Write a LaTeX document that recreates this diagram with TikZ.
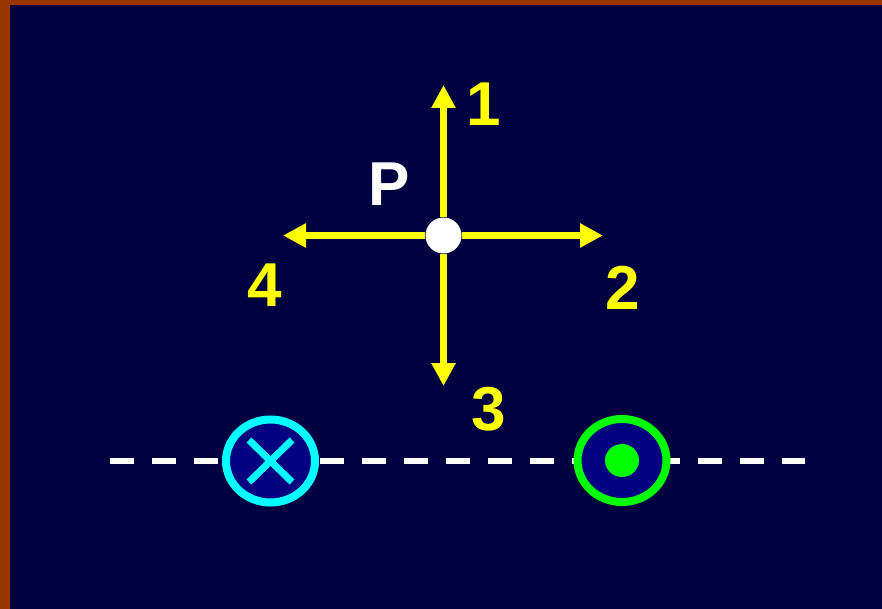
\documentclass[tikz,border=0pt]{standalone}
\usepackage{fontspec}
\setmainfont{Liberation Sans}
\usetikzlibrary{arrows.meta,shapes.geometric,calc}
\definecolor{framebrown}{HTML}{993300}
\definecolor{bgnavy}{HTML}{000040}
\definecolor{innernavy}{HTML}{000080}
\definecolor{ylw}{HTML}{FFFF00}
\definecolor{ccyan}{HTML}{00FFFF}
\definecolor{cgreen}{HTML}{00FF00}
\begin{document}
\begin{tikzpicture}[x=1pt,y=-1pt,
  arr/.style={draw=ylw, line width=7pt, -{Triangle[width=23pt,length=23pt]}, fill=ylw},
  lbl/.style={inner sep=0pt, font=\fontsize{62}{62}\selectfont\bfseries},
  ring/.style={ellipse, draw, line width=8pt, fill=innernavy, minimum width=89pt, minimum height=83pt, inner sep=0pt},
  axis/.style={draw=white, line width=6pt, dash pattern=on 24pt off 18pt}]
\fill[framebrown] (0,0) rectangle (882,609);
\fill[bgnavy] (10,5) rectangle (882,609);
\useasboundingbox (0,0) rectangle (882,609);
% dashed axis
\coordinate (L) at (110,461);
\coordinate (R) at (805,461);
\draw[axis] (L) -- (R);
% conductors
\node[ring, draw=ccyan] (into) at (270.5,461) {};
\draw[ccyan, line width=7pt] ($(into)+(-21.5,-21)$) -- ($(into)+(21.5,21)$);
\draw[ccyan, line width=7pt] ($(into)+(21.5,-21)$) -- ($(into)+(-21.5,21)$);
\node[ring, draw=cgreen] (outof) at (622,460.5) {};
\node[ellipse, fill=cgreen, minimum width=34pt, minimum height=33pt, inner sep=0pt] (dot) at (outof) {};
% point P
\node[circle, fill=white, minimum size=36pt, inner sep=0pt] (P) at (443.5,235.5) {};
\coordinate (e1) at (443.5,85);
\coordinate (e2) at (603,235.5);
\coordinate (e3) at (443.5,386);
\coordinate (e4) at (283,235.5);
\draw[arr] (P) -- (e1);
\draw[arr] (P) -- (e2);
\draw[arr] (P) -- (e3);
\draw[arr] (P) -- (e4);
% labels
\node[lbl, text=ylw] (n1) at (483.5,104.5) {1};
\node[lbl, text=ylw] (n2) at (623,288) {2};
\node[lbl, text=ylw] (n3) at (489,409) {3};
\node[lbl, text=ylw] (n4) at (265,285) {4};
\node[lbl, text=white] (nP) at (389,184) {P};
\end{tikzpicture}
\end{document}
